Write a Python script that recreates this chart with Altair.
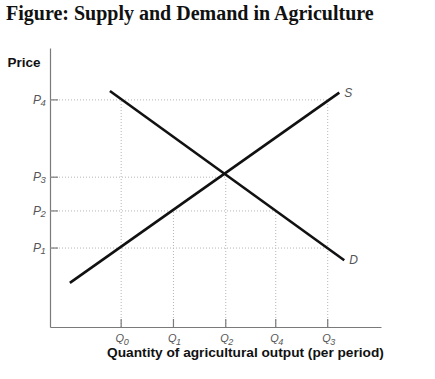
import altair as alt
import pandas as pd

# Tick positions on the quantity and price axes (arbitrary units, 0-10)
q_subs = ["0", "1", "2", "4", "3"]          # Q₀, Q₁, Q₂, Q₄, Q₃
q_vals = [2.15, 3.73, 5.31, 6.82, 8.39]
p_subs = ["1", "2", "3", "4"]               # P₁ .. P₄
p_vals = [2.83, 4.16, 5.37, 8.14]

# How far each dotted guide line reaches
h_guide_to = [8.39, 6.82, 5.31, 8.39]   # horizontal guides end at these quantities
v_guide_to = [8.14, 4.16, 5.37, 4.16, 8.14]  # vertical guides end at these prices

# Supply and demand curves (end points)
supply_q = [0.60, 8.74]
supply_p = [1.58, 8.40]
demand_q = [1.81, 8.89]
demand_p = [8.46, 2.39]

FONT = "Liberation Sans"
W, H = 331, 279
LABEL_GREY = "#555"

xs = alt.Scale(domain=[0, 10], nice=False, zero=False)
ys = alt.Scale(domain=[0, 10], nice=False, zero=False)

curves = pd.DataFrame({
    "q": supply_q + demand_q,
    "p": supply_p + demand_p,
    "curve": ["S"] * len(supply_q) + ["D"] * len(demand_q),
})
curve_ends = pd.DataFrame({
    "q": [supply_q[-1], demand_q[-1]],
    "p": [supply_p[-1], demand_p[-1]],
    "label": ["S", "D"],
})
h_guides = pd.DataFrame({"p": p_vals, "q0": [0] * len(p_vals), "q1": h_guide_to,
                         "letter": ["P"] * len(p_vals), "sub": p_subs})
v_guides = pd.DataFrame({"q": q_vals, "p0": [0] * len(q_vals), "p1": v_guide_to,
                         "letter": ["Q"] * len(q_vals), "sub": q_subs})

x_axis = alt.Axis(
    title="Quantity of agricultural output (per period)",
    labels=False, ticks=False, grid=False,
    domainColor="#7a7a7a", domainWidth=1.2,
    titleFont=FONT, titleFontSize=13.7, titleFontWeight="bold", titleColor="#111",
    titleX=195, titleY=29.5, titleAlign="center", titleBaseline="alphabetic",
)
y_axis = alt.Axis(
    title="Price",
    labels=False, ticks=False, grid=False,
    domainColor="#7a7a7a", domainWidth=1.2,
    titleFont=FONT, titleFontSize=13.5, titleFontWeight="bold", titleColor="#111",
    titleAngle=0, titleX=-43, titleY=18, titleAlign="left", titleBaseline="alphabetic",
)

guide_style = dict(color="#b5b5b5", strokeDash=[1, 2], strokeWidth=1)

# dotted guides from the axes to each labelled level
h_lines = alt.Chart(h_guides).mark_rule(**guide_style).encode(
    x=alt.X("q0:Q", scale=xs, axis=x_axis), x2="q1:Q",
    y=alt.Y("p:Q", scale=ys, axis=y_axis),
)
v_lines = alt.Chart(v_guides).mark_rule(**guide_style).encode(
    x=alt.X("q:Q", scale=xs),
    y=alt.Y("p0:Q", scale=ys), y2="p1:Q",
)

# short inward ticks
y_ticks = alt.Chart(h_guides).mark_rule(color="#7a7a7a", strokeWidth=1.2).encode(
    x=alt.value(0), x2=alt.value(8),
    y=alt.Y("p:Q", scale=ys),
)
x_ticks = alt.Chart(v_guides).mark_rule(color="#7a7a7a", strokeWidth=1.2).encode(
    x=alt.X("q:Q", scale=xs),
    y=alt.value(H), y2=alt.value(H - 8),
)

# tick labels: italic letter plus a smaller, lowered subscript digit
label_style = dict(font=FONT, fontStyle="italic", color=LABEL_GREY, baseline="alphabetic")

y_letters = alt.Chart(h_guides).mark_text(fontSize=12, align="right", dy=4, **label_style).encode(
    x=alt.value(-9), y=alt.Y("p:Q", scale=ys), text="letter:N",
)
y_subs = alt.Chart(h_guides).mark_text(fontSize=9.5, align="left", dy=6, dx=-0.5, **label_style).encode(
    x=alt.value(-9), y=alt.Y("p:Q", scale=ys), text="sub:N",
)
x_letters = alt.Chart(v_guides).mark_text(fontSize=11, align="right", dx=3, **label_style).encode(
    x=alt.X("q:Q", scale=xs), y=alt.value(H + 15), text="letter:N",
)
x_subs = alt.Chart(v_guides).mark_text(fontSize=9, align="left", dx=2.5, dy=2.5, **label_style).encode(
    x=alt.X("q:Q", scale=xs), y=alt.value(H + 15), text="sub:N",
)

lines = alt.Chart(curves).mark_line(color="#111", strokeWidth=2.6).encode(
    x=alt.X("q:Q", scale=xs), y=alt.Y("p:Q", scale=ys), detail="curve:N",
)

end_labels = alt.Chart(curve_ends).mark_text(
    font=FONT, fontSize=12, fontStyle="italic", color=LABEL_GREY, align="left", baseline="middle", dx=5,
).encode(
    x=alt.X("q:Q", scale=xs),
    y=alt.Y("p:Q", scale=ys),
    text="label:N",
)

chart = alt.layer(
    h_lines, v_lines, lines, y_ticks, x_ticks,
    y_letters, y_subs, x_letters, x_subs, end_labels,
).properties(
    width=W, height=H,
    autosize=alt.AutoSizeParams(type="none"),
    padding={"left": 50, "top": 48, "right": 54, "bottom": 52},
    title=alt.TitleParams(
        "Figure: Supply and Demand in Agriculture",
        font="Liberation Serif", fontSize=20, fontWeight="bold", color="#111",
        anchor="start", frame="group", dx=-44, offset=8, baseline="alphabetic",
    ),
).configure(background="white").configure_view(stroke=None)

chart.save("out.html", embed_options={"renderer": "svg", "actions": False})
